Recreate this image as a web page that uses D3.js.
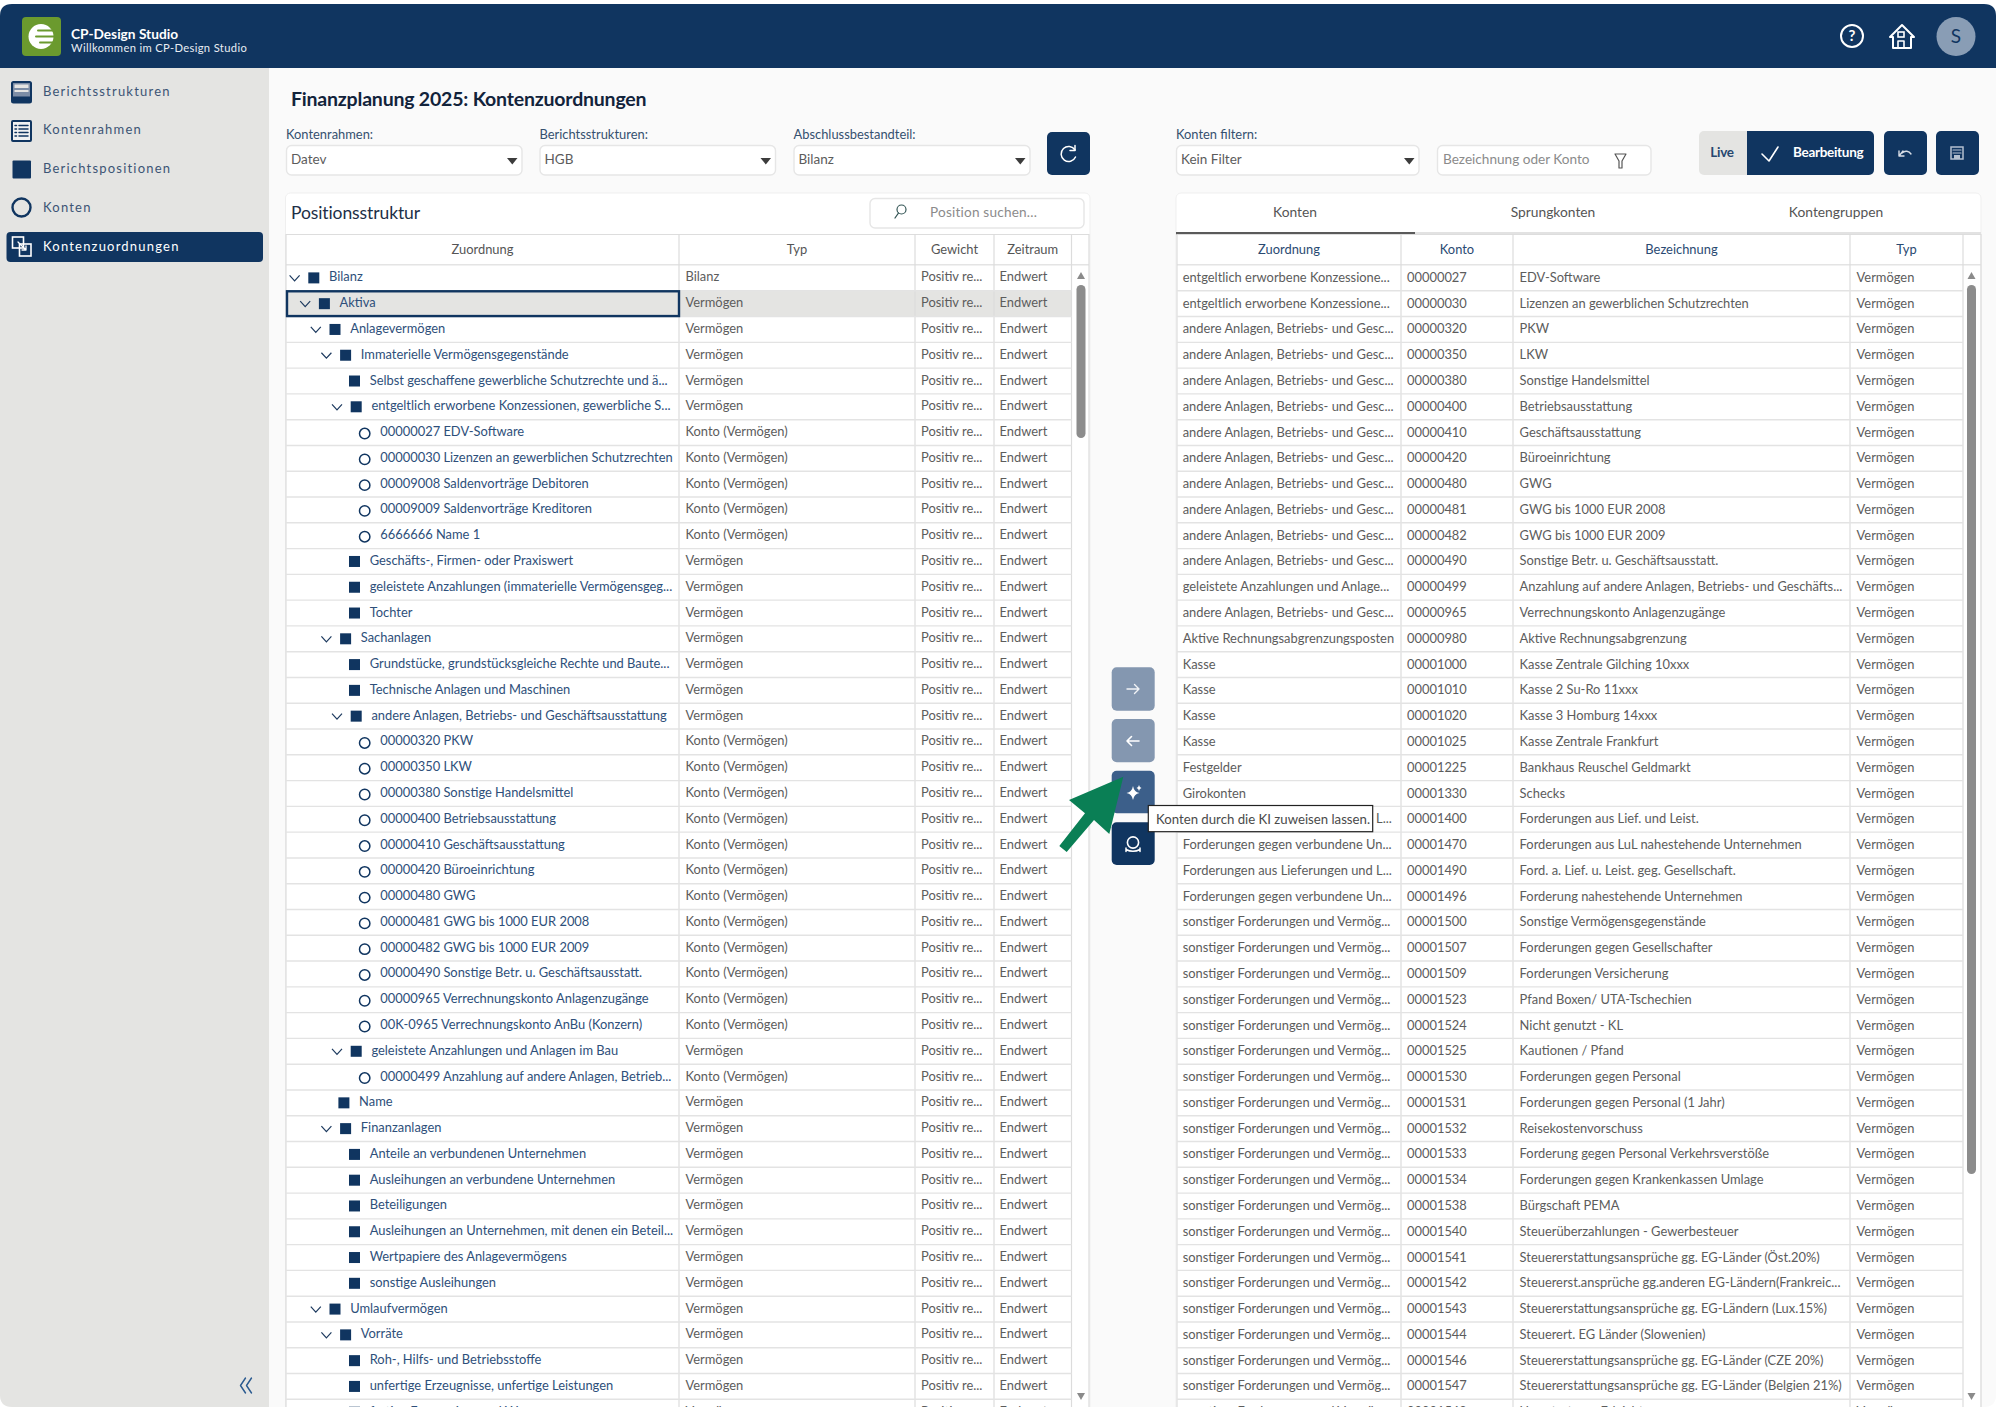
<!DOCTYPE html>
<html lang="de">
<head>
<meta charset="utf-8">
<title>Finanzplanung 2025: Kontenzuordnungen</title>
<script src="https://cdnjs.cloudflare.com/ajax/libs/d3/7.9.0/d3.min.js"></script>
<style>
    html, body { margin: 0; padding: 0; background: #fff; }
    svg { display: block; }
    text { font-family: Lato, "Noto Sans", sans-serif; }
</style>
</head>
<body>
<div id="d3container"></div>
<script>
// sidebar + form labels
const navItems = ['Berichtsstrukturen', 'Kontenrahmen', 'Berichtspositionen', 'Konten', 'Kontenzuordnungen'];
const filterLabels = ['Kontenrahmen:', 'Berichtsstrukturen:', 'Abschlussbestandteil:', 'Konten filtern:'];
const filterValues = ['Datev', 'HGB', 'Bilanz', 'Kein Filter'];
const leftHeaders = ['Zuordnung', 'Typ', 'Gewicht', 'Zeitraum'];
const rightHeaders = ['Zuordnung', 'Konto', 'Bezeichnung', 'Typ'];
const tabLabels = ['Konten', 'Sprungkonten', 'Kontengruppen'];

// left table, one entry per row
const treeLabels = [
    'Bilanz', 'Aktiva', 'Anlagevermögen', 'Immaterielle Vermögensgegenstände',
    'Selbst geschaffene gewerbliche Schutzrechte und ä...',
    'entgeltlich erworbene Konzessionen, gewerbliche S...',
    '00000027 EDV-Software', '00000030 Lizenzen an gewerblichen Schutzrechten',
    '00009008 Saldenvorträge Debitoren', '00009009 Saldenvorträge Kreditoren', '6666666 Name 1',
    'Geschäfts-, Firmen- oder Praxiswert', 'geleistete Anzahlungen (immaterielle Vermögensgeg...', 'Tochter',
    'Sachanlagen', 'Grundstücke, grundstücksgleiche Rechte und Baute...', 'Technische Anlagen und Maschinen',
    'andere Anlagen, Betriebs- und Geschäftsausstattung',
    '00000320 PKW', '00000350 LKW', '00000380 Sonstige Handelsmittel', '00000400 Betriebsausstattung',
    '00000410 Geschäftsausstattung', '00000420 Büroeinrichtung', '00000480 GWG',
    '00000481 GWG bis 1000 EUR 2008', '00000482 GWG bis 1000 EUR 2009',
    '00000490 Sonstige Betr. u. Geschäftsausstatt.', '00000965 Verrechnungskonto Anlagenzugänge',
    '00K-0965 Verrechnungskonto AnBu (Konzern)',
    'geleistete Anzahlungen und Anlagen im Bau', '00000499 Anzahlung auf andere Anlagen, Betrieb...',
    'Name', 'Finanzanlagen', 'Anteile an verbundenen Unternehmen', 'Ausleihungen an verbundene Unternehmen',
    'Beteiligungen', 'Ausleihungen an Unternehmen, mit denen ein Beteil...', 'Wertpapiere des Anlagevermögens',
    'sonstige Ausleihungen', 'Umlaufvermögen', 'Vorräte', 'Roh-, Hilfs- und Betriebsstoffe',
    'unfertige Erzeugnisse, unfertige Leistungen', 'fertige Erzeugnisse und Waren'
];
const treeDepths = [0, 1, 2, 3, 4, 4, 5, 5, 5, 5, 5, 4, 4, 4, 3, 4, 4, 4, 5, 5, 5, 5, 5, 5, 5, 5, 5, 5, 5, 5, 4, 5, 3, 3, 4, 4, 4, 4, 4, 4, 2, 3, 4, 4, 4];
// o = open group, p = position, k = konto
const treeKinds = 'oooopokkkkkppp' + 'oppo' + 'kkkkkkkkkkkk' + 'ok' + 'po' + 'pppppp' + 'oo' + 'ppp';

// right table, one entry per row
const kontoZuordnung = [
    'entgeltlich erworbene Konzessione...', 'entgeltlich erworbene Konzessione...',
    'andere Anlagen, Betriebs- und Gesc...', 'andere Anlagen, Betriebs- und Gesc...', 'andere Anlagen, Betriebs- und Gesc...',
    'andere Anlagen, Betriebs- und Gesc...', 'andere Anlagen, Betriebs- und Gesc...', 'andere Anlagen, Betriebs- und Gesc...',
    'andere Anlagen, Betriebs- und Gesc...', 'andere Anlagen, Betriebs- und Gesc...', 'andere Anlagen, Betriebs- und Gesc...',
    'andere Anlagen, Betriebs- und Gesc...', 'geleistete Anzahlungen und Anlage...', 'andere Anlagen, Betriebs- und Gesc...',
    'Aktive Rechnungsabgrenzungsposten', 'Kasse', 'Kasse', 'Kasse', 'Kasse', 'Festgelder', 'Girokonten',
    'Forderungen aus Lieferungen und L...', 'Forderungen gegen verbundene Un...', 'Forderungen aus Lieferungen und L...',
    'Forderungen gegen verbundene Un...',
    ...Array(20).fill('sonstiger Forderungen und Vermög...')
];
const kontoNummern = [
    '00000027', '00000030', '00000320', '00000350', '00000380', '00000400', '00000410', '00000420', '00000480',
    '00000481', '00000482', '00000490', '00000499', '00000965', '00000980', '00001000', '00001010', '00001020',
    '00001025', '00001225', '00001330', '00001400', '00001470', '00001490', '00001496', '00001500', '00001507',
    '00001509', '00001523', '00001524', '00001525', '00001530', '00001531', '00001532', '00001533', '00001534',
    '00001538', '00001540', '00001541', '00001542', '00001543', '00001544', '00001546', '00001547', '00001548'
];
const kontoNamen = [
    'EDV-Software', 'Lizenzen an gewerblichen Schutzrechten', 'PKW', 'LKW', 'Sonstige Handelsmittel', 'Betriebsausstattung',
    'Geschäftsausstattung', 'Büroeinrichtung', 'GWG', 'GWG bis 1000 EUR 2008', 'GWG bis 1000 EUR 2009',
    'Sonstige Betr. u. Geschäftsausstatt.', 'Anzahlung auf andere Anlagen, Betriebs- und Geschäfts...',
    'Verrechnungskonto Anlagenzugänge', 'Aktive Rechnungsabgrenzung', 'Kasse Zentrale Gilching 10xxx', 'Kasse 2 Su-Ro 11xxx',
    'Kasse 3 Homburg 14xxx', 'Kasse Zentrale Frankfurt', 'Bankhaus Reuschel Geldmarkt', 'Schecks',
    'Forderungen aus Lief. und Leist.', 'Forderungen aus LuL nahestehende Unternehmen', 'Ford. a. Lief. u. Leist. geg. Gesellschaft.',
    'Forderung nahestehende Unternehmen', 'Sonstige Vermögensgegenstände', 'Forderungen gegen Gesellschafter',
    'Forderungen Versicherung', 'Pfand Boxen/ UTA-Tschechien', 'Nicht genutzt - KL', 'Kautionen / Pfand',
    'Forderungen gegen Personal', 'Forderungen gegen Personal (1 Jahr)', 'Reisekostenvorschuss',
    'Forderung gegen Personal Verkehrsverstöße', 'Forderungen gegen Krankenkassen Umlage', 'Bürgschaft PEMA',
    'Steuerüberzahlungen - Gewerbesteuer', 'Steuererstattungsansprüche gg. EG-Länder (Öst.20%)',
    'Steuererst.ansprüche gg.anderen EG-Ländern(Frankreic...', 'Steuererstattungsansprüche gg. EG-Ländern (Lux.15%)',
    'Steuerert. EG Länder (Slowenien)', 'Steuererstattungsansprüche gg. EG-Länder (CZE 20%)',
    'Steuererstattungsansprüche gg. EG-Länder (Belgien 21%)', 'Umsatzsteuer Erleichterung'
];

const width = 2000;
const height = 1409;
const navy = '#103560';
const grey = '#5c5c5c';
const treeBlue = '#2e4f7a';
const lineGrey = '#e3e3e3';
const cellSize = 12.9;

const svg = d3.select('#d3container').append('svg').attr('width', width).attr('height', height);
const defs = svg.append('defs');
defs.append('clipPath').attr('id', 'app').append('path')
    .attr('d', 'M0 16Q0 4 12 4H1984Q1996 4 1996 16V1395Q1996 1407 1984 1407H12Q0 1407 0 1395Z');
const app = svg.append('g').attr('clip-path', 'url(#app)');

function box(parent, x0, y0, x1, y1, fill, stroke, r) {
    return parent.append('rect').attr('x', x0).attr('y', y0).attr('width', x1 - x0).attr('height', y1 - y0)
        .attr('rx', r || 0).attr('fill', fill).attr('stroke', stroke || 'none');
}
function label(parent, x, y, str, size, color, anchor) {
    return parent.append('text').attr('x', x).attr('y', y).attr('dy', '0.35em')
        .attr('font-size', size).attr('fill', color).attr('text-anchor', anchor || 'start').text(str);
}
function line(parent, d, color, w) {
    return parent.append('path').attr('d', d).attr('fill', 'none').attr('stroke', color)
        .attr('stroke-width', w || 1.5).attr('stroke-linecap', 'round').attr('stroke-linejoin', 'round');
}

// page background, sidebar, header
box(app, 0, 0, width, height, '#fafafa');
box(app, 0, 68, 269, height, '#e4e4e2');
box(app, 0, 0, width, 68, navy);

box(app, 22, 17, 61, 56, '#6b9a2e', null, 4);
app.append('circle').attr('cx', 41).attr('cy', 36.5).attr('r', 12.5).attr('fill', '#fff');
[30.5, 36.5, 42.5].forEach((y, i) => line(app, `M${[38, 36, 40][i]} ${y}H56`, '#6b9a2e', 2));
label(app, 71, 34, 'CP-Design Studio', 13.7, '#fff').attr('font-weight', 700);
label(app, 71, 48.5, 'Willkommen im CP-Design Studio', 11.2, '#e8edf3').attr('letter-spacing', 0.35);

// header icons
const headerIcons = app.append('g');
headerIcons.append('circle').attr('cx', 1852).attr('cy', 36).attr('r', 11).attr('fill', 'none').attr('stroke', '#fff').attr('stroke-width', 2);
label(headerIcons, 1852, 36, '?', 15, '#fff', 'middle').attr('font-weight', 700);
line(headerIcons, 'M1890 37L1902 25L1914 37H1911V48H1893V37Z', '#fff', 2);
headerIcons.append('rect').attr('x', 1898).attr('y', 32).attr('width', 6).attr('height', 5).attr('fill', 'none').attr('stroke', '#fff').attr('stroke-width', 1.6);
line(headerIcons, 'M1898 48V41H1904V48', '#fff', 1.6);
headerIcons.append('circle').attr('cx', 1956).attr('cy', 36.5).attr('r', 19.5).attr('fill', '#899db5');
label(headerIcons, 1956, 36, 'S', 19, navy, 'middle');

// sidebar nav
const navY = d3.scalePoint().domain(navItems).range([91, 246]);
box(app, 6.5, 232, 263, 262, navy, null, 4);
app.selectAll('text.nav').data(navItems).join('text')
    .attr('class', 'nav').attr('x', 43).attr('y', d => navY(d)).attr('dy', '0.35em')
    .attr('font-size', 13).attr('letter-spacing', 1.2)
    .attr('fill', d => d === 'Kontenzuordnungen' ? '#fff' : '#3c5475').text(d => d);

box(app, 12, 82, 31, 102.5, '#7c8da6', navy, 1.5).attr('stroke-width', 2);
box(app, 14.5, 84.5, 28.5, 88, '#e4e4e2');
box(app, 14.5, 90, 28.5, 92, '#e4e4e2');
box(app, 13, 96.5, 30, 102, navy);
box(app, 12, 121, 31, 141, '#f0f1f2', navy, 1).attr('stroke-width', 2);
[125.5, 129, 132.5, 136].forEach(y => line(app, `M15 ${y}H16.5M19 ${y}H28`, navy, 1.5));
box(app, 12.5, 160.5, 31, 178.5, navy, null, 1);
app.append('circle').attr('cx', 21.5).attr('cy', 207.5).attr('r', 9).attr('fill', 'none').attr('stroke', navy).attr('stroke-width', 2.4);
box(app, 12.5, 237, 23.5, 248, 'none', '#fff').attr('stroke-width', 1.6);
box(app, 19.5, 244, 31, 256, 'none', '#fff').attr('stroke-width', 1.6);
line(app, 'M18 242L26 250M26 246V250H22', '#fff', 1.3);

line(app, 'M245.5 1378L240.5 1385.5L245.5 1393', '#2a5a90', 1.4);
line(app, 'M251.5 1378L246.5 1385.5L251.5 1393', '#2a5a90', 1.4);

// title + filters
label(app, 291, 99.5, 'Finanzplanung 2025: Kontenzuordnungen', 19.5, '#12233b').attr('font-weight', 700).attr('letter-spacing', -0.2);

const filterX = [[286, 522], [539.5, 775.5], [793.5, 1030], [1176, 1419]];
filterX.forEach(([x0, x1], i) => {
    label(app, x0, 134.5, filterLabels[i], 12.9, '#35506f');
    box(app, x0 + 0.5, 145.5, x1, 175, '#fff', '#e6e6e6', 5).attr('stroke-width', 1.4);
    label(app, x0 + 5, 159.5, filterValues[i], 13.5, grey);
    app.append('path').attr('d', `M${x1 - 15} 158h10.5l-5.2 6.5z`).attr('fill', '#3c3c3c');
});
box(app, 1047, 132, 1090, 175, navy, null, 5);
line(app, 'M1075 150A7.5 7.5 0 1 0 1075.5 157', '#fff', 1.5);
line(app, 'M1075 145.5V150.5H1070', '#fff', 1.5);

box(app, 1437.5, 145.5, 1651, 175, '#fff', '#e6e6e6', 5).attr('stroke-width', 1.4);
label(app, 1443, 159.5, 'Bezeichnung oder Konto', 13.6, '#8b8b8b');
line(app, 'M1615 154H1626L1622 161V168H1619V161Z', '#555', 1.2);

box(app, 1699, 131, 1760, 175, '#e4e4e2', null, 5);
box(app, 1747, 131, 1874, 175, navy, null, 5);
box(app, 1747, 131, 1755, 175, navy);
label(app, 1722, 152.5, 'Live', 13.5, '#26476f', 'middle').attr('font-weight', 700).attr('letter-spacing', -0.3);
line(app, 'M1762 154L1769 161L1778 147', '#fff', 1.6);
label(app, 1793, 152.5, 'Bearbeitung', 13.5, '#fff').attr('font-weight', 700).attr('letter-spacing', -0.3);
box(app, 1884, 131, 1927, 175, navy, null, 5);
line(app, 'M1899 156L1903 151M1899 151V156H1904M1902 153C1905 150 1909 151 1911 154', '#d7dde6', 1.4);
box(app, 1936, 131, 1979, 175, navy, null, 5);
box(app, 1951, 147, 1963, 159, 'none', '#b4c0cf').attr('stroke-width', 1.5);
line(app, 'M1953 150H1961M1953 153H1961', '#b4c0cf', 1.2);
box(app, 1954, 155, 1960, 159, '#b4c0cf');

// cards
box(app, 285.5, 193, 1090, 1420, '#fff', '#efefef', 5);
box(app, 1176, 193, 1981, 1420, '#fff', '#efefef', 5);
label(app, 291, 212.5, 'Positionsstruktur', 17.5, '#1d2f47').attr('letter-spacing', -0.1);
box(app, 870, 198.5, 1084, 228, '#fff', '#e6e6e6', 5).attr('stroke-width', 1.4);
app.append('circle').attr('cx', 901.5).attr('cy', 209.5).attr('r', 4.5).attr('fill', 'none').attr('stroke', '#355').attr('stroke-width', 1.2);
line(app, 'M898.5 213L895 218', '#355', 1.3);
label(app, 930, 212.5, 'Position suchen...', 13.6, '#8b8b8b').attr('letter-spacing', 0.2);

// tabs
const tabX = d3.scaleOrdinal().domain(tabLabels).range([1295, 1553, 1836]);
app.selectAll('text.tab').data(tabLabels).join('text')
    .attr('class', 'tab').attr('x', d => tabX(d)).attr('y', 212.5).attr('dy', '0.35em')
    .attr('text-anchor', 'middle').attr('font-size', 13.8).attr('fill', '#555').text(d => d);
box(app, 1176, 232, 1981, 234, '#e2e2e2');
box(app, 1176, 232, 1415, 234.5, '#5a5a5a');

// tables, rows come from a band scale over the row index
const rowY = d3.scaleBand().domain(d3.range(treeLabels.length)).range([265, 265 + 45 * 25.78]);
const yMid = i => rowY(i) + rowY.bandwidth() / 2;

function drawFrame(parent, cols, right, headers, headColor, headY) {
    const heads = cols.slice(0, headers.length);
    parent.selectAll('text.head').data(headers).join('text')
        .attr('class', 'head').attr('x', (d, i) => (heads[i] + cols[i + 1]) / 2).attr('y', headY)
        .attr('dy', '0.35em').attr('text-anchor', 'middle').attr('font-size', 12.9).attr('fill', headColor).text(d => d);
    box(parent, cols[0], 234, right, 235, '#ddd');
    box(parent, cols[0], 264, right, 265.5, '#e4e4e4');
    parent.selectAll('line.col').data([...cols, right]).join('line')
        .attr('class', 'col').attr('x1', d => d).attr('x2', d => d).attr('y1', 234).attr('y2', 1420)
        .attr('stroke', '#dcdcdc').attr('stroke-width', 1.2);
    parent.selectAll('line.row').data(d3.range(treeLabels.length)).join('line')
        .attr('class', 'row').attr('x1', cols[0]).attr('x2', cols[cols.length - 1])
        .attr('y1', i => rowY(i) + rowY.bandwidth()).attr('y2', i => rowY(i) + rowY.bandwidth())
        .attr('stroke', lineGrey).attr('stroke-width', 1.4);
}
function drawScroll(parent, x, thumbEnd) {
    parent.append('path').attr('d', `M${x - 4} 279h8l-4 -7z`).attr('fill', '#8a8a8a');
    parent.append('path').attr('d', `M${x - 4} 1393h8l-4 7z`).attr('fill', '#8a8a8a');
    box(parent, x - 4.5, 285, x + 4.5, thumbEnd, '#8c8c8c', null, 4.5);
}

// left table
const leftCols = [286, 679, 915, 994, 1071.5];
const leftTable = app.append('g');
box(leftTable, 286, rowY(1), 1071.5, rowY(2), '#e4e4e2');
drawFrame(leftTable, leftCols, 1089, leftHeaders, '#555', 249.5);
box(leftTable, 287, rowY(1) + 0.5, 679, rowY(2) - 0.5, 'none', navy).attr('stroke-width', 2.4);
drawScroll(leftTable, 1081, 438);

const leftRows = leftTable.selectAll('g.tree').data(treeLabels).join('g').attr('class', 'tree')
    .attr('transform', (d, i) => `translate(0,${yMid(i)})`);
const textX = i => treeKinds[i] === 'o' ? 329 + 10.6 * treeDepths[i] : 327.3 + 10.6 * treeDepths[i];

leftRows.append('text').attr('x', (d, i) => textX(i)).attr('y', -1).attr('dy', '0.35em')
    .attr('font-size', cellSize).attr('fill', treeBlue).text(d => d);
leftRows.filter((d, i) => treeKinds[i] !== 'k').append('rect')
    .attr('x', d => textX(treeLabels.indexOf(d)) - 20.7).attr('y', -5.5).attr('width', 11).attr('height', 11).attr('fill', navy);
leftRows.filter((d, i) => treeKinds[i] === 'k').append('circle')
    .attr('cx', d => textX(treeLabels.indexOf(d)) - 15.6).attr('cy', 1).attr('r', 5.2)
    .attr('fill', 'none').attr('stroke', navy).attr('stroke-width', 1.5);
leftRows.filter((d, i) => treeKinds[i] === 'o').append('path')
    .attr('d', d => {
        const cx = textX(treeLabels.indexOf(d)) - 34.4;
        return `M${cx - 5} -2.5L${cx} 3L${cx + 5} -2.5`;
    }).attr('fill', 'none').attr('stroke', '#1d3a5f').attr('stroke-width', 1.2);

const typFor = i => i === 0 ? 'Bilanz' : treeKinds[i] === 'k' ? 'Konto (Vermögen)' : 'Vermögen';
[[685.5, typFor], [921, () => 'Positiv re...'], [999.5, () => 'Endwert']].forEach(([x, fn]) => {
    leftTable.append('g').selectAll('text').data(treeLabels).join('text')
        .attr('x', x).attr('y', (d, i) => yMid(i) - 1).attr('dy', '0.35em')
        .attr('font-size', cellSize).attr('fill', grey).text((d, i) => fn(i));
});

// right table
const rightCols = [1177, 1401, 1513, 1850, 1963];
const rightTable = app.append('g');
drawFrame(rightTable, rightCols, 1981, rightHeaders, '#2a4a72', 249.5);
drawScroll(rightTable, 1971.5, 1174);
[
    [1182.7, kontoZuordnung], [1407, kontoNummern], [1519.6, kontoNamen],
    [1856.6, kontoNummern.map(() => 'Vermögen')]
].forEach(([x, values]) => {
    rightTable.append('g').selectAll('text').data(values).join('text')
        .attr('x', x).attr('y', (d, i) => yMid(i) - 0.5).attr('dy', '0.35em')
        .attr('font-size', cellSize).attr('fill', grey).text(d => d);
});

// transfer buttons
box(app, 1111.7, 667.3, 1154.7, 710.7, '#8497b0', null, 5);
line(app, 'M1127 689H1139M1134.5 684.5L1139 689L1134.5 693.5', '#f1f3f6', 1.4);
box(app, 1111.7, 719, 1154.7, 762.3, '#8497b0', null, 5);
line(app, 'M1127 741H1139M1131.5 736.5L1127 741L1131.5 745.5', '#fff', 1.6);
box(app, 1111.7, 770.7, 1154.7, 813.3, '#3c5f8a', null, 5);
app.append('path').attr('d', 'M1133 786Q1134 792 1139.5 793Q1134 794 1133 800Q1132 794 1126.5 793Q1132 792 1133 786Z').attr('fill', '#fff');
app.append('path').attr('d', 'M1139 785Q1139.5 787.5 1141.5 788Q1139.5 788.5 1139 791Q1138.5 788.5 1136.5 788Q1138.5 787.5 1139 785Z').attr('fill', '#fff');
box(app, 1111.7, 822.3, 1154.7, 865, navy, null, 5);
app.append('circle').attr('cx', 1133).attr('cy', 842.5).attr('r', 5.6).attr('fill', 'none').attr('stroke', '#fff').attr('stroke-width', 1.6);
line(app, 'M1126 849.5Q1133 853 1140 849.5M1126 848V851.5M1140 848V851.5', '#fff', 1.5);

// green arrow and tooltip
app.append('path').attr('d', 'M1123.3 776.7L1069 800L1085 813.3L1059.3 846L1066.7 852L1094 820L1109.3 834Z').attr('fill', '#0a7f55');
box(app, 1148.3, 805.5, 1372.7, 831.7, '#fff', '#222').attr('stroke-width', 1.2);
label(app, 1156, 819, 'Konten durch die KI zuweisen lassen.', 13.2, '#4a4a4a');
</script>
</body>
</html>
